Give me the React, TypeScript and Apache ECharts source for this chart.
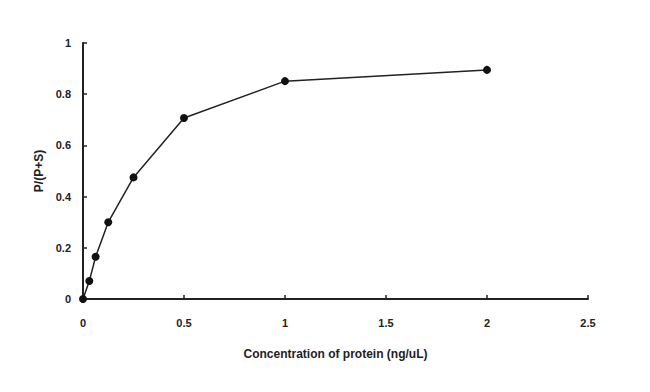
import React, { useEffect, useRef } from "react";
import * as echarts from "echarts";

const concentrations = [0, 0.03125, 0.0625, 0.125, 0.25, 0.5, 1, 2];
const ratios = [0, 0.07, 0.165, 0.3, 0.475, 0.707, 0.851, 0.895];
const xTitle = "Concentration of protein (ng/uL)";
const yTitle = "P/(P+S)";

export default function App() {
  const ref = useRef<HTMLDivElement>(null);
  useEffect(() => {
    if (!ref.current) return;
    const chart = echarts.init(ref.current, null, { renderer: "svg" });
    const axisText = {
      color: "#222",
      fontFamily: "Liberation Sans, Arial, sans-serif",
      fontWeight: "bold" as const,
      fontSize: 11,
    };
    chart.setOption({
      animation: false,
      backgroundColor: "#fff",
      grid: { left: 83, right: 62, top: 43, bottom: 93, containLabel: false },
      xAxis: {
        type: "value",
        min: 0,
        max: 2.5,
        interval: 0.5,
        name: xTitle,
        nameLocation: "middle",
        nameGap: 49,
        nameTextStyle: { ...axisText, fontSize: 12 },
        axisLine: { lineStyle: { color: "#222", width: 2 } },
        axisTick: { inside: true, length: 4, lineStyle: { color: "#222", width: 1.5 } },
        axisLabel: { ...axisText, margin: 18 },
        splitLine: { show: false },
      },
      yAxis: {
        type: "value",
        min: 0,
        max: 1,
        interval: 0.2,
        name: yTitle,
        nameLocation: "middle",
        nameGap: 38,
        nameRotate: 90,
        nameTextStyle: { ...axisText, fontSize: 12 },
        axisLine: { lineStyle: { color: "#222", width: 2 } },
        axisTick: { inside: true, length: 4, lineStyle: { color: "#222", width: 1.5 } },
        axisLabel: { ...axisText, margin: 12 },
        splitLine: { show: false },
      },
      series: [
        {
          type: "line",
          data: concentrations.map((c, i) => [c, ratios[i]]),
          symbol: "circle",
          symbolSize: 8,
          itemStyle: { color: "#111" },
          lineStyle: { color: "#222", width: 1.5 },
        },
      ],
    });
    return () => chart.dispose();
  }, []);
  return <div ref={ref} style={{ width: 650, height: 392, position: "absolute", left: 0, top: 0 }} />;
}
